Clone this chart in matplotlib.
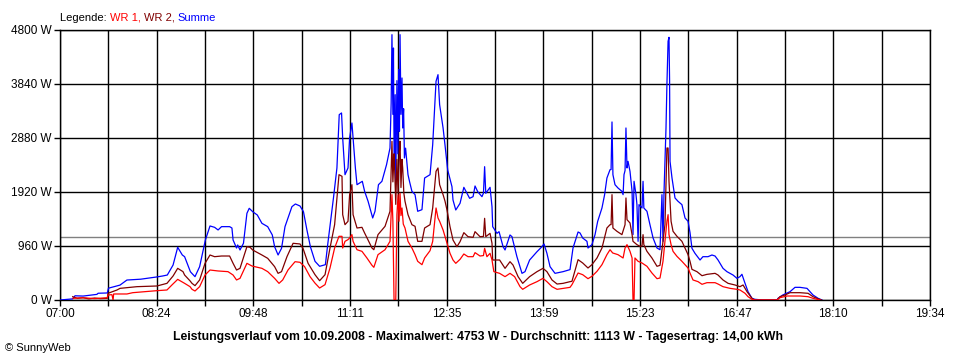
import numpy as np
import matplotlib
matplotlib.use("Agg")
import matplotlib.pyplot as plt
from matplotlib.offsetbox import TextArea, HPacker, AnchoredOffsetbox

sum_t = [0, 11, 13, 20, 32, 33, 41, 42, 52, 58, 70, 84, 89, 93, 98, 102, 106, 108, 113, 114, 117,
         121, 126, 130, 134, 137, 140, 147, 149, 150, 153, 154, 156, 159, 162, 164, 167, 171, 175,
         180, 184, 186, 189, 192, 195, 201, 204, 208, 211, 214, 217, 221, 225, 230, 232, 237, 240,
         242, 244, 245, 247, 249.6, 251, 253, 254, 256, 257.4, 262, 264, 267, 271, 273, 276, 279,
         283, 286, 287, 287.7, 288.5, 289, 289.6, 290.5, 291, 292, 292.8, 293.5, 294.2, 294.7,
         295.5, 296.4, 297, 297.8, 298.5, 299.5, 301.6, 303, 305, 307.7, 310, 313.7, 316, 320.7,
         323, 325.9, 327.6, 329, 332, 333.7, 336, 339.7, 340.6, 343, 346.7, 350, 352.7, 355, 358,
         359.7, 362, 365.7, 367, 368, 369, 372.7, 374.4, 375, 378.7, 380.5, 384, 385.7, 390, 391.7,
         396, 400.4, 403, 407, 413.4, 417.7, 419.5, 422, 424.7, 429, 436, 442, 444.6, 449, 450.7,
         453, 456.7, 457.6, 461, 463.7, 466, 469.7, 472, 474, 476.7, 477.6, 478.4, 479.2, 481,
         483.6, 487, 488, 488.8, 489.7, 490.5, 491.4, 492.3, 494, 495.8, 496.6, 497.5, 499.2, 500,
         501, 501.8, 504.4, 505.3, 506, 508.7, 511.3, 514, 517.4, 520, 521.7, 522.6, 523.5, 525.2,
         526, 527, 527.8, 528.3, 528.7, 530.4, 533, 535.6, 539, 541.7, 544.3, 546, 547.7, 550.3,
         554.7, 557.2, 561.6, 565, 567.7, 570.3, 574.6, 578, 583.3, 586.7, 589.3, 591, 593.7,
         596.3, 599.7, 602.3, 609.3, 621.4, 622.3, 626.4, 632.7, 637, 641.3, 647.4, 650, 652.6,
         657, 660.4]
sum_w = [0, 20, 75, 70, 100, 120, 125, 210, 265, 355, 370, 410, 427, 444, 622, 937, 800, 770, 503,
         480, 415, 592, 1067, 1316, 1292, 1245, 1304, 1304, 1280, 1067, 924, 978, 889, 1008, 1541,
         1630, 1570, 1511, 1363, 1304, 1156, 948, 800, 919, 1304, 1659, 1707, 1671, 1570, 1245,
         948, 688, 599, 628, 984, 1814, 2347, 3295, 3325, 2880, 2228, 2347, 2880, 3147, 2880, 2347,
         2050, 2110, 1932, 1755, 1458, 1577, 2050, 2110, 2406, 2702, 3500, 4717, 3300, 4480, 2400,
         3650, 2050, 3900, 2600, 4100, 3000, 4717, 3300, 3947, 3058, 3400, 2525, 2700, 2228, 2100,
         1932, 1873, 1577, 1606, 2169, 2228, 2762, 3888, 4006, 3473, 3058, 2750, 2311, 2015, 1778,
         1600, 1719, 2003, 1897, 1808, 1837, 2027, 1926, 1837, 1900, 2370, 1897, 2003, 1659, 1304,
         1185, 1215, 948, 889, 1156, 1126, 770, 474, 504, 711, 859, 948, 996, 830, 593, 474, 504,
         540, 924, 1209, 1191, 1102, 1043, 924, 984, 1162, 1399, 1636, 1873, 2169, 2317, 2320,
         3165, 2228, 2050, 1991, 1932, 1873, 2228, 2300, 3058, 2347, 2465, 2287, 1932, 1162, 2110,
         1873, 1700, 1043, 1695, 1636, 2110, 1636, 1577, 1339, 1102, 924, 894, 1873, 1043, 1932,
         3058, 3828, 4599, 4670, 3911, 2465, 2169, 1814, 1755, 1695, 1458, 1399, 1200, 919, 830,
         711, 770, 770, 800, 782, 711, 563, 504, 444, 385, 415, 457, 296, 148, 30, 12, 0, 0, 30,
         89, 148, 225, 225, 207, 148, 89, 30, 0]

wr2_t = [11, 15, 20, 25, 30, 35, 41, 41.6, 49.4, 52, 66.7, 84, 92.7, 98, 102, 106.6, 108, 112.7,
         114.4, 117, 121, 125.7, 130, 134, 140, 147, 150, 153, 156, 162, 164.7, 167, 175, 180, 186,
         189, 192, 196.7, 202, 208, 210.6, 215, 221, 225, 229.7, 234, 238, 241.8, 244.4, 245, 247,
         249.6, 251, 253, 254, 257.4, 261.7, 264, 270.4, 272, 275.6, 281.7, 286, 287.7, 288.5,
         289.5, 290, 291, 292, 293, 294, 294.7, 295.5, 296.4, 297, 298, 299, 301.6, 305, 307.7,
         310, 313.7, 316, 320.7, 323, 325.9, 327.6, 329, 332, 333.7, 335.4, 338, 340.6, 344, 346.7,
         350, 353.6, 358, 359.7, 364, 367, 368, 369, 372.7, 374.4, 375, 381, 385.7, 390, 392.6,
         397, 401, 407, 413.4, 418.6, 422, 426.4, 430.8, 436, 442, 443.7, 449, 453, 457.6, 461,
         465.4, 469.7, 474, 476.7, 477.6, 478.4, 479.2, 482.7, 487, 489.7, 490.5, 491.4, 494,
         495.8, 496.6, 500, 502.7, 504.4, 505.3, 506, 508.7, 513, 517.4, 520, 522.6, 524.3, 526,
         527, 527.8, 529.6, 531.3, 534.7, 539, 541.7, 544.3, 546, 547.7, 552, 556.4, 560.7, 567.7,
         570.3, 574.6, 579, 585, 589.3, 592, 595.4, 599.7, 602, 621.4, 624, 628.3, 632.7, 641.3,
         648.3, 652.6, 657, 660]
wr2_w = [59, 30, 40, 20, 35, 25, 30, 119, 178, 207, 237, 249, 296, 427, 563, 504, 444, 340, 296,
         255, 356, 652, 800, 770, 782, 782, 652, 533, 563, 948, 937, 889, 800, 741, 593, 474, 504,
         770, 1008, 996, 919, 652, 450, 343, 450, 924, 1339, 2228, 2199, 1517, 1339, 1399, 1873,
         2050, 1517, 1280, 1292, 1191, 924, 894, 1162, 1310, 1577, 2821, 2100, 2600, 2347, 1700,
         2500, 1900, 2600, 2821, 2000, 2500, 2347, 1900, 1755, 1517, 1339, 1310, 1043, 1043, 1280,
         1339, 1636, 2287, 2347, 2050, 1873, 1755, 1600, 1304, 1067, 948, 1037, 1197, 1126, 1114,
         1215, 1126, 1130, 1452, 1126, 1185, 1008, 711, 711, 563, 681, 622, 415, 296, 415, 504,
         563, 504, 356, 284, 296, 326, 332, 717, 658, 569, 628, 747, 924, 1280, 1339, 1340, 1873,
         1280, 1221, 1162, 1339, 1814, 1428, 1369, 1162, 1043, 984, 954, 960, 1162, 984, 865, 747,
         599, 616, 1043, 1339, 2702, 2702, 2110, 1399, 1221, 1132, 1043, 924, 806, 688, 545, 504,
         432, 456, 474, 444, 356, 296, 267, 237, 267, 148, 30, 0, 0, 59, 89, 130, 130, 119, 59, 20,
         0]

wr1_t = [11.3, 20, 30, 41, 41.6, 45, 46, 46.5, 58, 63, 84, 92.7, 97, 102, 108, 112.7, 114.4, 117,
         121, 125.7, 130, 137, 145.6, 150, 153, 156, 162, 166.4, 175, 180, 186, 189.8, 193, 197.6,
         203.7, 208, 212, 216.7, 221, 225, 229.7, 234, 238, 241.8, 244.4, 245, 247, 249.6, 251,
         253, 254, 257.4, 261.7, 266, 270.4, 272, 275.6, 281.7, 286, 287.7, 288.5, 289.5, 291,
         292, 293, 293.8, 294.7, 295.5, 296.4, 297.5, 299, 301.6, 305, 307.7, 310, 313.7, 316,
         320.7, 323, 325.9, 327.6, 329, 332, 335.4, 338, 340.6, 343, 346.7, 350, 353.6, 358, 359.7,
         364, 367, 368, 370, 372.7, 374.4, 376, 381, 385.7, 390, 394, 398.7, 401, 407, 413.4,
         418.6, 422, 426.4, 430.8, 436, 442, 443.7, 449, 453, 457.6, 461, 465.4, 469.7, 474, 476.7,
         479, 483.6, 488, 489.7, 491.4, 494, 495.8, 496.6, 497.5, 498.3, 501, 504.4, 508.7, 513,
         517.4, 520, 522.6, 524.3, 526, 527, 527.8, 529.6, 531.3, 534.7, 539, 541.7, 544.3, 546,
         548.6, 553, 556.4, 560.7, 567.7, 570.3, 574.6, 580.7, 586.7, 589.3, 593.7, 596.3, 599.7,
         602, 621.4, 624, 630, 641.3, 648.3, 652.6, 658.7]
wr1_w = [30, 40, 25, 40, 89, 95, 0, 107, 107, 130, 166, 178, 267, 367, 296, 237, 190, 160, 237,
         444, 533, 516, 504, 444, 356, 385, 652, 604, 563, 504, 385, 296, 356, 533, 681, 670, 593,
         415, 300, 213, 273, 569, 924, 1132, 1132, 924, 1043, 1073, 1102, 1162, 1043, 894, 865,
         747, 616, 581, 806, 894, 1043, 1873, 1400, 0, 0, 1517, 1873, 1400, 1900, 1500, 1636,
         1350, 1280, 1043, 924, 806, 688, 628, 747, 877, 1043, 1636, 1458, 1399, 1245, 1008, 830,
         711, 652, 723, 818, 770, 770, 842, 782, 790, 919, 770, 830, 711, 504, 474, 415, 474, 415,
         237, 190, 267, 326, 385, 326, 237, 190, 207, 225, 273, 480, 450, 379, 421, 510, 628, 806,
         894, 836, 806, 747, 924, 984, 865, 747, 0, 0, 747, 688, 658, 599, 480, 379, 391, 688,
         1043, 1399, 1517, 1162, 984, 865, 776, 688, 628, 569, 480, 356, 326, 279, 308, 308, 284,
         237, 207, 190, 178, 119, 59, 12, 0, 0, 41, 71, 71, 59, 30, 0]

x_labels = ["07:00", "08:24", "09:48", "11:11", "12:35", "13:59", "15:23", "16:47", "18:10", "19:34"]
y_values = [0, 960, 1920, 2880, 3840, 4800]
average_w = 1113
title = ("Leistungsverlauf vom 10.09.2008 - Maximalwert: 4753 W - "
         "Durchschnitt: 1113 W - Tagesertrag: 14,00 kWh")

span = 754  # 07:00 .. 19:34
font = "Liberation Sans"

fig = plt.figure(figsize=(9.6, 3.6), dpi=100)
ax = fig.add_axes([60 / 960, 60 / 360, 870 / 960, 270 / 360])

ax.axhline(average_w, color="#808080", lw=1.0, zorder=1)
ax.plot(sum_t, sum_w, color="#0000ff", lw=0.9, zorder=3)
ax.plot(wr2_t, wr2_w, color="#800000", lw=0.9, zorder=4)
ax.plot(wr1_t, wr1_w, color="#ff0000", lw=0.9, zorder=5)

ax.set_xlim(0, span)
ax.set_ylim(0, 4800)
major = np.linspace(0, span, len(x_labels))
ax.set_xticks(major)
ax.set_xticklabels(x_labels, fontsize=8.5, family=font)
ax.set_xticks((major[:-1] + major[1:]) / 2, minor=True)
ax.set_yticks(y_values)
ax.set_yticklabels([f"{v} W" for v in y_values], fontsize=8.5, family=font)
ax.grid(True, which="both", axis="x", color="black", lw=1.0, zorder=2)
ax.grid(True, which="major", axis="y", color="black", lw=1.0, zorder=2)
ax.set_axisbelow(False)
ax.tick_params(axis="x", which="both", length=4, width=1, pad=2)
ax.tick_params(axis="y", length=4, width=1, pad=2)
for s in ax.spines.values():
    s.set_linewidth(1.0)

parts = [("Legende: ", "black"), ("WR 1, ", "#ff0000"), ("WR 2, ", "#800000"), ("Summe", "#0000ff")]
boxes = [TextArea(t, textprops=dict(color=c, fontsize=8, family=font)) for t, c in parts]
legend = AnchoredOffsetbox(loc="lower left", child=HPacker(children=boxes, pad=0, sep=0),
                           frameon=False, bbox_to_anchor=(60 / 960, 337 / 360),
                           bbox_transform=fig.transFigure, borderpad=0, pad=0)
fig.add_artist(legend)

fig.text(478 / 960, 23 / 360, title, ha="center", va="center", fontsize=8.8,
         fontweight="bold", family=font)
fig.text(5 / 960, 12 / 360, "\u00a9 SunnyWeb", ha="left", va="center", fontsize=8, family=font)

fig.savefig("out.png", dpi=100, facecolor="white")
